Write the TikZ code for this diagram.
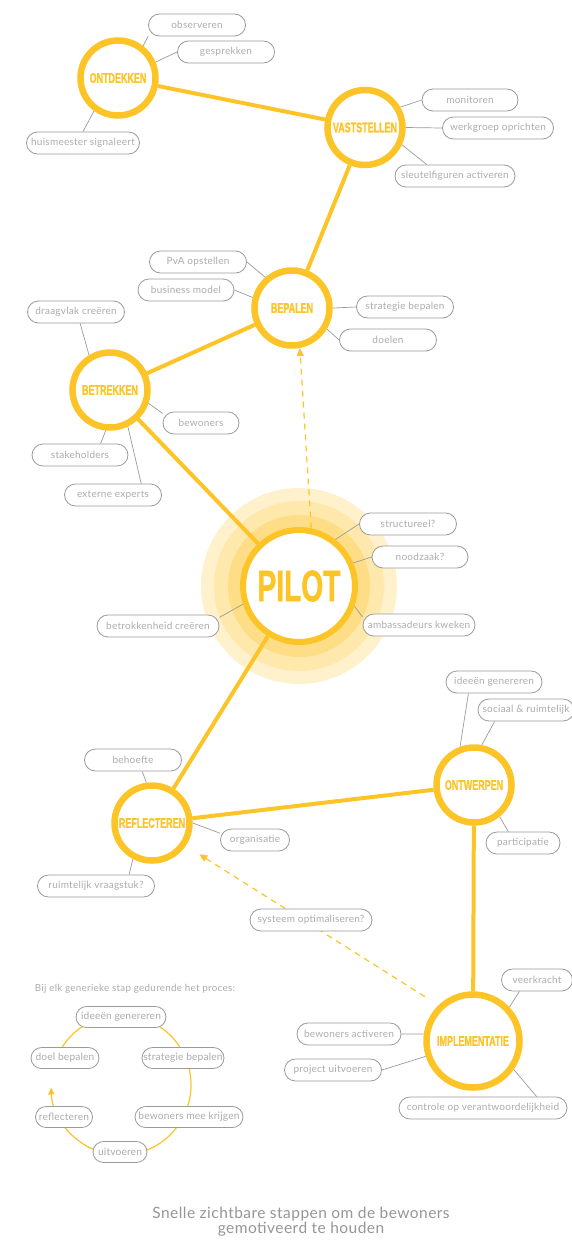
\documentclass[tikz,border=0pt]{standalone}
\usepackage{fontspec}
\setmainfont{Lato}
\newfontfamily\headfont{Liberation Sans}[BoldFeatures={FakeBold=1.5}]
\usetikzlibrary{arrows.meta}
\definecolor{gold}{RGB}{253,196,40}
\definecolor{haloA}{RGB}{254,241,204}
\definecolor{haloB}{RGB}{254,232,172}
\definecolor{haloC}{RGB}{253,222,135}
\definecolor{pillline}{RGB}{155,155,155}
\definecolor{pilltext}{RGB}{172,172,172}
\definecolor{captext}{RGB}{150,150,150}
\newcommand{\circlab}[1]{\scalebox{0.64}[1]{\headfont\bfseries\fontsize{14}{14}\selectfont #1}}
\pgfdeclarelayer{bg}
\pgfsetlayers{bg,main}
\begin{document}
\begin{tikzpicture}[x=1pt,y=-1pt,
  stage/.style={circle,draw=gold,line width=6.5pt,fill=white,minimum size=75pt,inner sep=0pt,text=gold},
  pill/.style={draw=pillline,line width=0.8pt,rounded corners=11pt,fill=white,minimum height=22pt,inner sep=0pt,text=pilltext,font=\fontsize{10}{12}\selectfont\addfontfeatures{LetterSpace=2.5}},
  cpill/.style={pill,minimum height=21pt,rounded corners=10.5pt,font=\fontsize{10.2}{12}\selectfont\addfontfeatures{LetterSpace=1.5}},
  conn/.style={draw=gold,line width=4pt},
  thinlink/.style={draw=pillline,line width=0.7pt},
  dashlink/.style={draw=gold,line width=1.2pt,dash pattern=on 6pt off 5pt,-{Triangle[length=8pt,width=7pt]}},
  cyclink/.style={draw=gold,line width=1.2pt,-{Triangle[length=7pt,width=6pt]}},
  note/.style={text=pilltext,inner sep=0pt}
]
\useasboundingbox (0,0) rectangle (572,1245);

% stages
\node[stage] (ontdekken) at (118,78) {\circlab{ONTDEKKEN}};
\node[stage] (vaststellen) at (365,127.5) {\circlab{VASTSTELLEN}};
\node[stage] (bepalen) at (292,308) {\circlab{BEPALEN}};
\node[stage] (betrekken) at (110,390) {\circlab{BETREKKEN}};
\node[stage,minimum size=112pt,line width=6pt] (pilot) at (299,586) {\scalebox{0.64}[1]{\headfont\bfseries\fontsize{44}{44}\selectfont PILOT}};
\node[stage] (reflecteren) at (152,823) {\circlab{REFLECTEREN}};
\node[stage] (ontwerpen) at (474,785) {\circlab{ONTWERPEN}};
\node[stage,minimum size=93pt] (impl) at (473,1041) {\circlab{IMPLEMENTATIE}};

% pills
\node[pill,minimum width=97pt] (obs) at (197,25) {observeren};
\node[pill,minimum width=97pt] (gesp) at (226,52) {gesprekken};
\node[pill,minimum width=113pt] (huis) at (83,143) {huismeester signaleert};
\node[pill,minimum width=96pt] (moni) at (470,100) {monitoren};
\node[pill,minimum width=111pt] (werk) at (498,128) {werkgroep oprichten};
\node[pill,minimum width=120pt] (sleu) at (455,176) {sleutelfiguren activeren};
\node[pill,minimum width=97pt] (pva) at (198,262) {PvA opstellen};
\node[pill,minimum width=96pt] (busi) at (186,290) {business model};
\node[pill,minimum width=97pt] (strat) at (405,307) {strategie bepalen};
\node[pill,minimum width=97pt] (doel) at (388,340) {doelen};
\node[pill,minimum width=97pt] (draag) at (76,312) {draagvlak creëren};
\node[pill,minimum width=76pt] (bewo) at (201,423) {bewoners};
\node[pill,minimum width=96pt] (stak) at (80,455) {stakeholders};
\node[pill,minimum width=97pt] (ext) at (113,495) {externe experts};
\node[pill,minimum width=97pt] (struc) at (408,524) {structureel?};
\node[pill,minimum width=96pt] (nood) at (420,557) {noodzaak?};
\node[pill,minimum width=112pt] (amb) at (419,625) {ambassadeurs kweken};
\node[pill,minimum width=122pt] (betr) at (158,626) {betrokkenheid creëren};
\node[pill,minimum width=97pt] (behoe) at (133,760) {behoefte};
\node[pill,minimum width=69pt] (orga) at (255,840) {organisatie};
\node[pill,minimum width=117pt] (ruim) at (96,886) {ruimtelijk vraagstuk?};
\node[pill,minimum width=96pt] (idee) at (494,682) {ideeën genereren};
\node[pill,minimum width=96pt] (soc) at (526,710) {sociaal \& ruimtelijk};
\node[pill,minimum width=74pt] (part) at (523,843) {participatie};
\node[pill,minimum width=122pt] (syst) at (311,920) {systeem optimaliseren?};
\node[pill,minimum width=71pt] (veer) at (537,980) {veerkracht};
\node[pill,minimum width=104pt] (bact) at (349,1034) {bewoners activeren};
\node[pill,minimum width=97pt] (proj) at (333,1070) {project uitvoeren};
\node[pill,minimum width=168pt] (contr) at (483,1108) {controle op verantwoordelijkheid};

% cycle
\node[note,font=\fontsize{9.8}{11}\selectfont\addfontfeatures{LetterSpace=3}] (ctitle) at (135,989) {Bij elk generieke stap gedurende het proces:};
\coordinate (cyc) at (121,1085);
\node[cpill,minimum width=90pt] (c1) at (121,1017) {ideeën genereren};
\node[cpill,minimum width=82pt] (c2) at (183,1058) {strategie bepalen};
\node[cpill,minimum width=108pt] (c3) at (189,1117) {bewoners mee krijgen};
\node[cpill,minimum width=54pt] (c4) at (120,1152) {uitvoeren};
\node[cpill,minimum width=57pt] (c5) at (64,1117) {reflecteren};
\node[cpill,minimum width=68pt] (c6) at (65,1058) {doel bepalen};

% caption
\node[text=captext,align=center,font=\fontsize{15.5}{15}\selectfont\addfontfeatures{LetterSpace=3},inner sep=0pt] (cap) at (301,1222) {Snelle zichtbare stappen om de bewoners\\gemotiveerd te houden};

\begin{pgfonlayer}{bg}
  \fill[white] (0,0) rectangle (572,1245);
  \fill[haloA] (pilot) circle[radius=98];
  \fill[haloB] (pilot) circle[radius=85];
  \fill[haloC] (pilot) circle[radius=71];
  % main path
  \draw[conn] (ontdekken) -- (vaststellen);
  \draw[conn] (vaststellen) -- (bepalen);
  \draw[conn] (bepalen) -- (betrekken);
  \draw[conn] (betrekken) -- (pilot);
  \draw[conn] (pilot) -- (reflecteren);
  \draw[conn] (reflecteren) -- (ontwerpen);
  \draw[conn] (ontwerpen) -- (impl);
  % dashed feedback
  \draw[dashlink] (pilot.78) -- (bepalen.-79);
  \draw[dashlink,shorten <=16pt,shorten >=16pt] (impl.134) -- (reflecteren.-34);
  % thin links
  \draw[thinlink] (ontdekken.52) -- (obs.193);
  \draw[thinlink] (ontdekken.23) -- (gesp.west);
  \draw[thinlink] (ontdekken.234) -- (huis.north);
  \draw[thinlink] (vaststellen.30) -- (moni.west);
  \draw[thinlink] (vaststellen.0) -- (werk.west);
  \draw[thinlink] (vaststellen.-25) -- (sleu.158);
  \draw[thinlink] (bepalen.131) -- (pva.east);
  \draw[thinlink] (bepalen.165) -- (busi.east);
  \draw[thinlink] (bepalen.0) -- (strat.west);
  \draw[thinlink] (bepalen.-31) -- (doel.west);
  \draw[thinlink] (betrekken.121) -- (draag.-70);
  \draw[thinlink] (betrekken.-19) -- (bewo.166);
  \draw[thinlink] (betrekken.264) -- (stak.29);
  \draw[thinlink] (betrekken.-64) -- (ext.22);
  \draw[thinlink] (pilot.52) -- (struc.west);
  \draw[thinlink] (pilot.23) -- (nood.west);
  \draw[thinlink] (pilot.-20) -- (amb.172);
  \draw[thinlink] (pilot.198) -- (betr.8);
  \draw[thinlink] (reflecteren.98) -- (behoe.-51);
  \draw[thinlink] (reflecteren.0) -- (orga.169);
  \draw[thinlink] (reflecteren.242) -- (ruim.19);
  \draw[thinlink] (ontwerpen.110) -- (idee.-156);
  \draw[thinlink] (ontwerpen.79) -- (soc.-160);
  \draw[thinlink] (ontwerpen.-51) -- (part.142);
  \draw[thinlink] (impl.43) -- (veer.213);
  \draw[thinlink] (impl.172) -- (bact.east);
  \draw[thinlink] (impl.198) -- (proj.east);
  \draw[thinlink] (impl.-35) -- (contr.12);
  % cycle arc
  \draw[cyclink] (cyc) ++(-155:70) arc[start angle=-155,end angle=178,radius=70];
\end{pgfonlayer}
\end{tikzpicture}
\end{document}
